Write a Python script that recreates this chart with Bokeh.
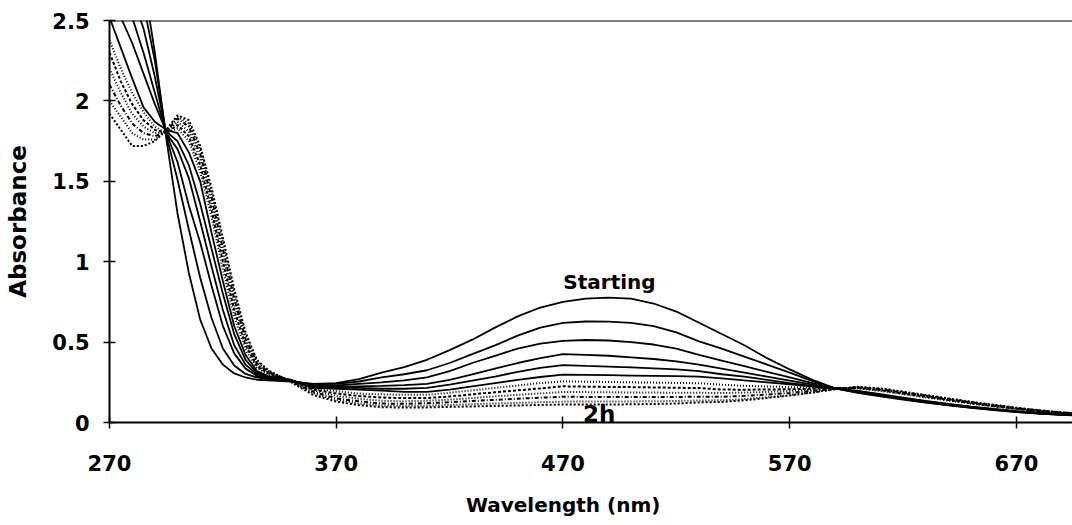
from bokeh.plotting import figure
from bokeh.models import FixedTicker, Span, Label
from bokeh.embed import file_html
from bokeh.resources import INLINE

# ---------------- data ----------------
wavelength = [270, 275, 280, 285, 290, 295, 300, 305, 310, 315, 320, 325, 330, 335, 340,
              350, 360, 370, 380, 390, 400, 410, 420, 430, 440, 450, 460, 470, 480, 490,
              500, 510, 520, 530, 540, 550, 560, 570, 580, 590,
              600, 610, 620, 630, 640, 650, 660, 670, 680, 690, 700]

# solid spectra (Starting first)
s1 = [3.6, 3.3, 3.0, 2.75, 2.3, 1.77, 1.3, 0.93, 0.64, 0.46, 0.36, 0.305, 0.28, 0.266, 0.262,
      0.255, 0.24, 0.245, 0.27, 0.31, 0.345, 0.39, 0.45, 0.515, 0.59, 0.66, 0.715, 0.75, 0.77, 0.777,
      0.77, 0.74, 0.69, 0.62, 0.55, 0.48, 0.40, 0.33, 0.265, 0.212,
      0.185, 0.163, 0.143, 0.124, 0.107, 0.091, 0.077, 0.065, 0.055, 0.047, 0.041]
s2 = [3.3, 3.0, 2.8, 2.6, 2.25, 1.79, 1.51, 1.2, 0.9, 0.65, 0.46, 0.355, 0.302, 0.28, 0.268,
      0.258, 0.235, 0.24, 0.255, 0.28, 0.30, 0.325, 0.37, 0.425, 0.48, 0.54, 0.59, 0.62, 0.628, 0.627,
      0.62, 0.60, 0.56, 0.505, 0.46, 0.41, 0.36, 0.31, 0.257, 0.212,
      0.187, 0.165, 0.145, 0.126, 0.108, 0.092, 0.078, 0.066, 0.056, 0.048, 0.042]
s3 = [3.0, 2.8, 2.65, 2.45, 2.15, 1.8, 1.62, 1.35, 1.12, 0.85, 0.6, 0.43, 0.335, 0.29, 0.272,
      0.26, 0.23, 0.23, 0.24, 0.25, 0.262, 0.28, 0.32, 0.37, 0.415, 0.46, 0.49, 0.508, 0.513, 0.51,
      0.50, 0.485, 0.46, 0.42, 0.385, 0.35, 0.315, 0.28, 0.245, 0.212,
      0.19, 0.168, 0.148, 0.128, 0.11, 0.094, 0.08, 0.067, 0.057, 0.049, 0.042]
s4 = [2.8, 2.65, 2.52, 2.3, 2.05, 1.8, 1.7, 1.52, 1.25, 0.97, 0.7, 0.48, 0.36, 0.3, 0.278,
      0.262, 0.225, 0.222, 0.225, 0.228, 0.232, 0.24, 0.265, 0.30, 0.335, 0.37, 0.40, 0.425, 0.42, 0.415,
      0.405, 0.395, 0.38, 0.36, 0.335, 0.31, 0.285, 0.26, 0.235, 0.212,
      0.192, 0.17, 0.15, 0.13, 0.112, 0.096, 0.081, 0.068, 0.058, 0.05, 0.043]
s5 = [2.65, 2.52, 2.36, 2.17, 1.98, 1.81, 1.75, 1.6, 1.36, 1.08, 0.8, 0.55, 0.39, 0.31, 0.283,
      0.264, 0.22, 0.215, 0.215, 0.21, 0.21, 0.215, 0.235, 0.26, 0.285, 0.315, 0.34, 0.357, 0.352, 0.348,
      0.343, 0.337, 0.33, 0.32, 0.30, 0.285, 0.265, 0.245, 0.228, 0.212,
      0.195, 0.173, 0.152, 0.132, 0.114, 0.097, 0.082, 0.069, 0.058, 0.05, 0.043]
s6 = [2.52, 2.33, 2.14, 1.96, 1.87, 1.82, 1.8, 1.68, 1.5, 1.18, 0.88, 0.6, 0.42, 0.32, 0.288,
      0.266, 0.215, 0.21, 0.205, 0.198, 0.19, 0.19, 0.205, 0.225, 0.245, 0.265, 0.283, 0.298, 0.296, 0.294,
      0.292, 0.29, 0.288, 0.285, 0.275, 0.262, 0.25, 0.237, 0.224, 0.212,
      0.197, 0.176, 0.155, 0.134, 0.116, 0.099, 0.084, 0.07, 0.059, 0.05, 0.044]

# dotted spectra (last one = 2h)
d1 = [2.38, 2.2, 2.05, 1.93, 1.84, 1.8, 1.83, 1.75, 1.56, 1.28, 0.95, 0.66, 0.45, 0.34, 0.3,
      0.262, 0.21, 0.195, 0.18, 0.175, 0.172, 0.172, 0.185, 0.2, 0.215, 0.23, 0.245, 0.256, 0.254, 0.252,
      0.25, 0.248, 0.246, 0.244, 0.235, 0.228, 0.224, 0.22, 0.217, 0.215,
      0.212, 0.196, 0.176, 0.156, 0.136, 0.117, 0.099, 0.083, 0.069, 0.058, 0.049]
d2 = [2.3, 2.12, 1.98, 1.88, 1.82, 1.8, 1.85, 1.78, 1.6, 1.32, 1.0, 0.7, 0.48, 0.35, 0.305,
      0.26, 0.205, 0.18, 0.165, 0.155, 0.152, 0.152, 0.162, 0.175, 0.188, 0.2, 0.212, 0.225, 0.223, 0.221,
      0.22, 0.218, 0.216, 0.214, 0.205, 0.204, 0.205, 0.207, 0.21, 0.214,
      0.214, 0.2, 0.18, 0.16, 0.14, 0.12, 0.102, 0.085, 0.071, 0.059, 0.05]
d3 = [2.2, 2.05, 1.92, 1.84, 1.8, 1.8, 1.87, 1.81, 1.64, 1.36, 1.04, 0.74, 0.5, 0.36, 0.31,
      0.258, 0.2, 0.165, 0.148, 0.135, 0.132, 0.135, 0.142, 0.152, 0.163, 0.172, 0.181, 0.19, 0.189, 0.188,
      0.187, 0.186, 0.185, 0.185, 0.183, 0.186, 0.19, 0.196, 0.203, 0.212,
      0.216, 0.203, 0.183, 0.163, 0.143, 0.123, 0.104, 0.087, 0.072, 0.06, 0.051]
d4 = [2.1, 1.97, 1.86, 1.8, 1.78, 1.81, 1.89, 1.84, 1.67, 1.4, 1.08, 0.77, 0.52, 0.37, 0.315,
      0.256, 0.19, 0.15, 0.132, 0.118, 0.116, 0.12, 0.126, 0.134, 0.141, 0.148, 0.154, 0.16, 0.159, 0.158,
      0.158, 0.158, 0.159, 0.16, 0.16, 0.166, 0.174, 0.184, 0.196, 0.21,
      0.218, 0.206, 0.186, 0.166, 0.145, 0.125, 0.106, 0.089, 0.074, 0.061, 0.052]
d5 = [2.0, 1.9, 1.8, 1.76, 1.76, 1.81, 1.9, 1.86, 1.7, 1.43, 1.12, 0.8, 0.54, 0.38, 0.32,
      0.255, 0.18, 0.14, 0.118, 0.105, 0.103, 0.105, 0.109, 0.114, 0.118, 0.122, 0.126, 0.13, 0.13, 0.13,
      0.131, 0.132, 0.134, 0.137, 0.138, 0.146, 0.157, 0.17, 0.187, 0.208,
      0.22, 0.209, 0.189, 0.168, 0.147, 0.127, 0.108, 0.09, 0.075, 0.062, 0.053]
d6 = [1.92, 1.82, 1.72, 1.72, 1.75, 1.82, 1.91, 1.88, 1.72, 1.46, 1.15, 0.83, 0.56, 0.39, 0.325,
      0.252, 0.17, 0.13, 0.108, 0.095, 0.093, 0.094, 0.097, 0.1, 0.103, 0.106, 0.109, 0.112, 0.112, 0.112,
      0.113, 0.115, 0.118, 0.125, 0.128, 0.138, 0.152, 0.168, 0.186, 0.207,
      0.222, 0.212, 0.192, 0.171, 0.15, 0.129, 0.11, 0.092, 0.076, 0.063, 0.054]

solid_series = [s1, s2, s3, s4, s5, s6]
dotted_series = [d1, d2, d3, d4, d5, d6]

x_ticks = [270, 370, 470, 570, 670]
y_ticks = [0, 0.5, 1, 1.5, 2, 2.5]
y_tick_labels = ["0", "0.5", "1", "1.5", "2", "2.5"]

x_label = "Wavelength  (nm)"
y_label = "Absorbance"
start_label = "Starting"
end_label = "2h"

# ---------------- figure ----------------
FONT = "DejaVu Sans"

p = figure(width=1072, height=525, x_range=(270, 694.7), y_range=(0, 2.5),
           output_backend="svg", toolbar_location=None,
           min_border_left=109, min_border_right=0, min_border_top=20, min_border_bottom=103)
p.background_fill_color = "white"
p.border_fill_color = "white"
p.outline_line_color = None
p.xgrid.visible = False
p.ygrid.visible = False

dashes = ["1 2", "3 2", "1 2", "4 2 1 2", "1 2", "2 2"]

for ys in solid_series:
    p.line(wavelength, ys, line_color="black", line_width=1.8)
for ys, dash in zip(dotted_series, dashes):
    p.line(wavelength, ys, line_color="black", line_width=2.0, line_dash=dash)

# axes
for ax in (p.xaxis[0], p.yaxis[0]):
    ax.axis_line_color = "black"
    ax.axis_line_width = 2
    ax.major_tick_line_color = "black"
    ax.major_tick_line_width = 1.5
    ax.major_tick_in = 6
    ax.major_tick_out = 6
    ax.minor_tick_line_color = None
    ax.major_label_text_font = FONT
    ax.major_label_text_font_style = "bold"
    ax.major_label_text_font_size = "21px"
    ax.major_label_text_color = "black"
    ax.axis_label_text_font = FONT
    ax.axis_label_text_font_style = "bold"
    ax.axis_label_text_color = "black"

p.xaxis.ticker = FixedTicker(ticks=x_ticks)
p.yaxis.ticker = FixedTicker(ticks=y_ticks)
p.yaxis.major_label_overrides = {t: l for t, l in zip(y_ticks, y_tick_labels)}
p.xaxis.major_label_standoff = 26
p.yaxis.major_label_standoff = 14
p.yaxis.axis_label = y_label
p.yaxis.axis_label_text_font_size = "23px"
p.yaxis.axis_label_standoff = 18

# x-axis label: trailing no-break spaces shift the centred text to sit under 470 nm
p.xaxis.axis_label = x_label + "\u00a0" * 7
p.xaxis.axis_label_text_font_size = "20px"
p.xaxis.axis_label_standoff = 19

# top frame line
p.add_layout(Span(location=2.5, dimension="width", line_color="black", line_width=2))

# annotations
p.add_layout(Label(x=490.5, y=0.873, text=start_label, text_align="center",
                   text_baseline="alphabetic", text_font=FONT, text_font_style="bold",
                   text_font_size="20px", text_color="black"))
p.add_layout(Label(x=486, y=0.05, text=end_label, text_align="center",
                   text_baseline="alphabetic", text_font=FONT, text_font_style="bold",
                   text_font_size="23px", text_color="black"))

open("out.html", "w").write(file_html(p, INLINE))
